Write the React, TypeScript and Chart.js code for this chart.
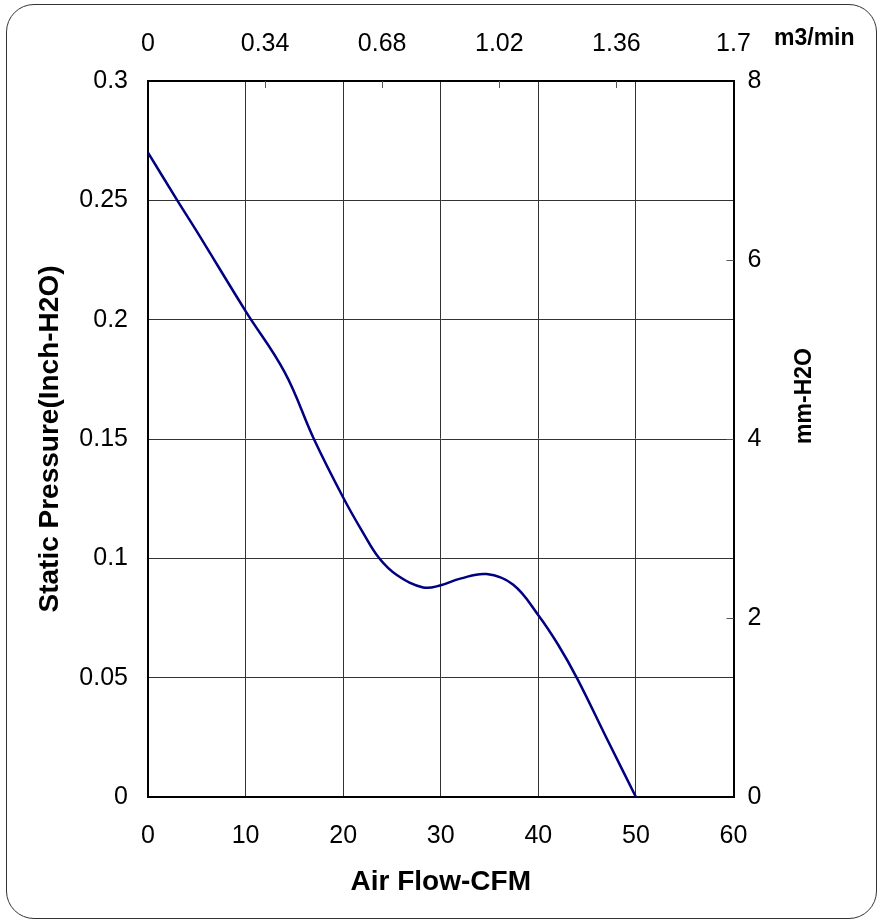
import React, { useEffect, useRef } from "react";
import { Chart, registerables } from "chart.js";

Chart.register(...registerables);

// Air flow (CFM) and static pressure (inch-H2O)
const airFlowCFM = [0, 3, 5, 10, 14, 17, 20, 22, 23.7, 25.5, 28.2, 30, 32, 34.7, 37.4, 40, 42, 44, 47, 50];
const pressureInch = [0.27, 0.25, 0.237, 0.2036, 0.178, 0.15, 0.1255, 0.111, 0.1, 0.093, 0.0878, 0.0887, 0.0915, 0.0934, 0.089, 0.0762, 0.064, 0.0495, 0.0246, 0];

const cfmTicks = [0, 10, 20, 30, 40, 50, 60];
const m3Ticks = [0, 0.34, 0.68, 1.02, 1.36, 1.7];
const inchTicks = [0, 0.05, 0.1, 0.15, 0.2, 0.25, 0.3];
const mmTicks = [0, 2, 4, 6, 8];

const FONT = "'Liberation Sans', Arial, Helvetica, sans-serif";

export default function App() {
  const ref = useRef<HTMLCanvasElement | null>(null);

  useEffect(() => {
    if (!ref.current) return;
    const setTicks = (vals: number[]) => (scale: any) => {
      scale.ticks = vals.map((v) => ({ value: v }));
    };
    const tickFont = { family: FONT, size: 25 };
    const titleFont = { family: FONT, size: 28, weight: "bold" as const };

    const extras = {
      id: "extras",
      afterDraw(chart: any) {
        const ctx = chart.ctx;
        const top = chart.scales.x2;
        const right = chart.scales.y2;
        const area = chart.chartArea;
        ctx.save();
        ctx.strokeStyle = "#555";
        ctx.lineWidth = 1;
        // inside tick marks on top axis
        m3Ticks.slice(1, -1).forEach((v) => {
          const px = Math.round(top.getPixelForValue(v)) + 0.5;
          ctx.beginPath();
          ctx.moveTo(px, area.top);
          ctx.lineTo(px, area.top + 7);
          ctx.stroke();
        });
        // inside tick marks on right axis
        mmTicks.slice(1, -1).forEach((v) => {
          const py = Math.round(right.getPixelForValue(v)) + 0.5;
          ctx.beginPath();
          ctx.moveTo(area.right, py);
          ctx.lineTo(area.right - 7, py);
          ctx.stroke();
        });
        ctx.fillStyle = "#000";
        ctx.font = `bold 23px ${FONT}`;
        ctx.textAlign = "left";
        ctx.textBaseline = "alphabetic";
        ctx.fillText("m3/min", 774, 45);
        ctx.translate(805, 396);
        ctx.rotate(-Math.PI / 2);
        ctx.textAlign = "center";
        ctx.textBaseline = "middle";
        ctx.fillText("mm-H2O", 0, 0);
        ctx.restore();
      },
    };

    const chart = new Chart(ref.current, {
      type: "line",
      data: {
        datasets: [
          {
            data: airFlowCFM.map((x, i) => ({ x, y: pressureInch[i] })),
            borderColor: "#000080",
            borderWidth: 2.5,
            pointRadius: 0,
            tension: 0.4,
            fill: false,
            xAxisID: "x",
            yAxisID: "y",
          },
        ],
      },
      options: {
        animation: false,
        responsive: false,
        layout: { padding: 0 },
        plugins: { legend: { display: false }, tooltip: { enabled: false } },
        scales: {
          x: {
            type: "linear",
            position: "bottom",
            min: 0,
            max: 60,
            afterBuildTicks: setTicks(cfmTicks),
            afterFit: (s: any) => { s.height = 127; },
            grid: { color: "#333", lineWidth: 1, drawTicks: false },
            border: { display: true, color: "#000", width: 2 },
            ticks: { font: tickFont, color: "#000", padding: 24, maxRotation: 0, callback: (v: any) => String(v) },
            title: { display: true, text: "Air Flow-CFM", font: titleFont, color: "#000", padding: { top: 0, bottom: 25 } },
          },
          x2: {
            type: "linear",
            position: "top",
            min: 0,
            max: 1.7,
            afterBuildTicks: setTicks(m3Ticks),
            afterFit: (s: any) => { s.height = 81; },
            grid: { display: false, drawTicks: false },
            border: { display: true, color: "#000", width: 2 },
            ticks: { font: tickFont, color: "#000", padding: 22, maxRotation: 0, callback: (v: any) => String(v) },
          },
          y: {
            type: "linear",
            position: "left",
            min: 0,
            max: 0.3,
            afterBuildTicks: setTicks(inchTicks),
            afterFit: (s: any) => { s.width = 148; },
            grid: { color: "#333", lineWidth: 1, drawTicks: false },
            border: { display: true, color: "#000", width: 2 },
            ticks: { font: tickFont, color: "#000", padding: 20, callback: (v: any) => String(v) },
            title: { display: true, text: "Static Pressure(Inch-H2O)", font: titleFont, color: "#000", padding: { top: 33, bottom: 0 } },
          },
          y2: {
            type: "linear",
            position: "right",
            min: 0,
            max: 8,
            afterBuildTicks: setTicks(mmTicks),
            afterFit: (s: any) => { s.width = 147.5; },
            grid: { display: false, drawTicks: false },
            border: { display: true, color: "#000", width: 2 },
            ticks: { font: tickFont, color: "#000", padding: 14, callback: (v: any) => String(v) },
          },
        },
      },
      plugins: [extras],
    } as any);
    return () => chart.destroy();
  }, []);

  return (
    <div>
      <div
        style={{
          position: "fixed",
          left: 6,
          top: 4,
          width: 871,
          height: 915,
          boxSizing: "border-box",
          border: "1.5px solid #333",
          borderRadius: 28,
        }}
      />
      <canvas
        ref={ref}
        width={881}
        height={924}
        style={{ position: "fixed", left: 0, top: 0, width: 881, height: 924 }}
      />
    </div>
  );
}
